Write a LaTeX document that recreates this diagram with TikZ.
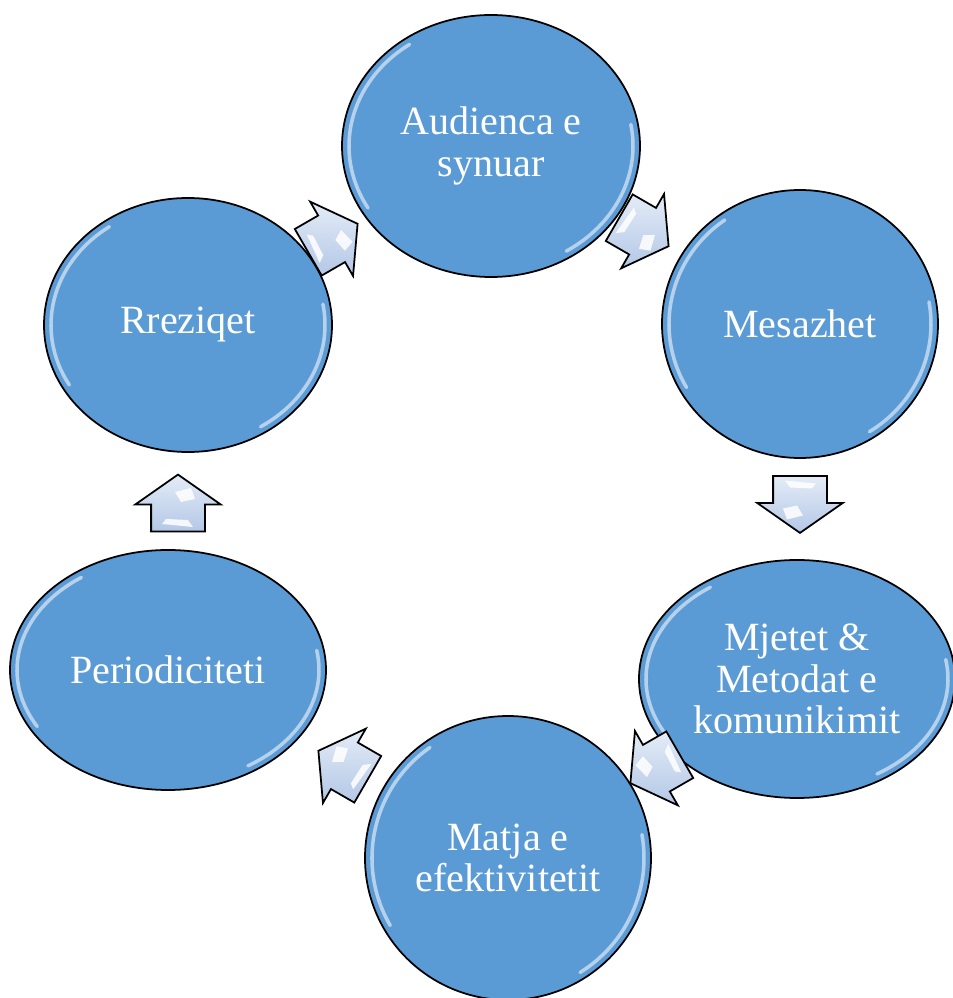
\documentclass[tikz,border=0pt]{standalone}
\usepackage{fontspec}
\setmainfont{Liberation Serif}
\usetikzlibrary{shapes.geometric,shapes.arrows}
\definecolor{ballblue}{HTML}{5B9BD5}
\definecolor{arrowlight}{HTML}{E4ECF7}
\definecolor{arrowdark}{HTML}{B3C7E6}

\begin{document}
\begin{tikzpicture}[
  ball/.style={ellipse, draw=black, line width=1pt, fill=ballblue, text=white,
    inner sep=0pt, align=center, font=\fontsize{22.8}{23.8}\selectfont},
  gloss/.style={white, line width=2pt, opacity=0.55, line cap=round},
  cyclearrow/.style={single arrow, draw=black, line width=1pt,
    top color=arrowlight, bottom color=arrowdark, inner xsep=0pt, inner ysep=0.52cm,
    minimum height=1.14cm, minimum width=1.68cm,
    single arrow head extend=0.32cm, single arrow tip angle=110},
  streak/.style={white, opacity=0.85}
]
\useasboundingbox (0,0) rectangle (19.06,19.96);

% Canvas 953x998 px, 50 px = 1cm, origin bottom left

% --- The six stages ---
\node[ball, minimum width=5.96cm, minimum height=5.24cm] (aud) at (9.82,17.04) {Audienca e\\synuar};
\node[ball, minimum width=5.52cm, minimum height=5.36cm] (mes) at (16.00,13.48) {Mesazhet};
\node[ball, minimum width=6.32cm, minimum height=4.76cm] (mje) at (15.94,6.38) {Mjetet \&\\Metodat e\\komunikimit};
\node[ball, minimum width=5.72cm, minimum height=5.68cm] (mat) at (10.16,2.80) {Matja e\\efektivitetit};
\node[ball, minimum width=6.32cm, minimum height=4.80cm] (per) at (3.36,6.56) {Periodiciteti};
\node[ball, minimum width=5.76cm, minimum height=5.08cm] (rre) at (3.76,13.46) {Rreziqet};

% Glossy rim on each ball
\foreach \n/\rx/\ry in {aud/2.98/2.62, mes/2.76/2.68, mje/3.16/2.38, mat/2.86/2.84, per/3.16/2.40, rre/2.88/2.54} {
  \pgfmathsetmacro{\ix}{\rx - 0.14}
  \pgfmathsetmacro{\iy}{\ry - 0.14}
  \draw[gloss] (\n.center) ++(125:{\ix} and {\iy}) arc[start angle=125, end angle=210, x radius=\ix, y radius=\iy];
  \draw[gloss] (\n.center) ++(-58:{\ix} and {\iy}) arc[start angle=-58, end angle=10, x radius=\ix, y radius=\iy];
}

% --- Block arrows between the stages ---
% (node center sits 0.19cm towards the tip, so pull it back)
\foreach \n/\x/\y/\a in {a1/6.66/15.20/30, a2/12.88/15.32/-30, a3/16.00/9.87/-90,
                         a4/13.10/4.58/210, a5/6.86/4.66/150, a6/3.56/9.90/90} {
  \begin{scope}[shift={(\x,\y)}, rotate=\a]
    \node[cyclearrow, transform shape] (\n) at (-0.19,0) {};
    \fill[streak] (-0.48,-0.30) -- (-0.42,0.32) -- (-0.32,0.24) -- (-0.34,-0.20) -- cycle;
    \fill[streak] (0.08,-0.34) -- (0.02,-0.06) -- (0.22,0.06) -- (0.30,-0.26) -- cycle;
  \end{scope}
}

\end{tikzpicture}
\end{document}
